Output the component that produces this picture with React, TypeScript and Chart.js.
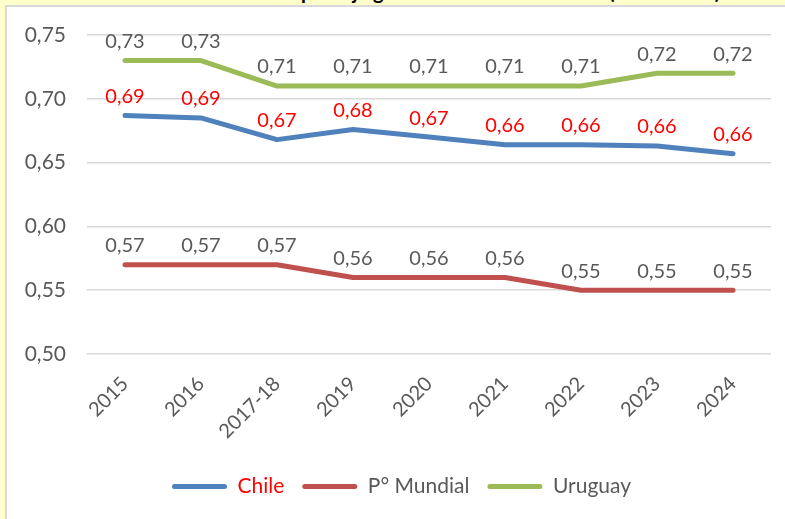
import React, { useEffect, useRef } from "react";
import { Chart, registerables } from "chart.js";

Chart.register(...registerables);

const categories = ["2015", "2016", "2017-18", "2019", "2020", "2021", "2022", "2023", "2024"];
const chileValues = [0.687, 0.685, 0.668, 0.676, 0.670, 0.664, 0.664, 0.663, 0.657];
const mundialValues = [0.57, 0.57, 0.57, 0.56, 0.56, 0.56, 0.55, 0.55, 0.55];
const uruguayValues = [0.73, 0.73, 0.71, 0.71, 0.71, 0.71, 0.71, 0.72, 0.72];
const seriesNames = ["Chile", "P° Mundial", "Uruguay"];
const seriesColors = ["#4F81BD", "#C0504D", "#9BBB59"];
const labelColors = ["#FF0000", "#595959", "#595959"];
const yTicks = { min: 0.5, max: 0.75, step: 0.05 };
const titleText = "Gráfico 1: Evolución del puntaje general de Chile en el IDH (2015-2024)";

const FONT = "Lato, 'Open Sans', sans-serif";
const fmt = (v: number) => v.toFixed(2).replace(".", ",");

const dataLabelPlugin = {
  id: "dataLabels",
  beforeDraw(chart: any) {
    // centre the legend row under the whole panel, as in the original
    if (chart.legend && !chart.legend._shifted) {
      chart.legend.left = 32;
      chart.legend._shifted = true;
    }
  },
  afterDatasetsDraw(chart: any) {
    const ctx = chart.ctx;
    chart.data.datasets.forEach((ds: any, i: number) => {
      const meta = chart.getDatasetMeta(i);
      meta.data.forEach((pt: any, j: number) => {
        const v = ds.data[j] as number;
        ctx.save();
        ctx.font = `20px ${FONT}`;
        ctx.fillStyle = labelColors[i];
        ctx.textAlign = "center";
        ctx.textBaseline = "middle";
        ctx.fillText(fmt(v), pt.x, pt.y - 19);
        ctx.restore();
      });
    });
  },
};

export default function App() {
  const ref = useRef<HTMLCanvasElement | null>(null);
  useEffect(() => {
    if (!ref.current) return;
    const values = [chileValues, mundialValues, uruguayValues];
    const chart = new Chart(ref.current, {
      type: "line",
      data: {
        labels: categories,
        datasets: values.map((d, i) => ({
          label: seriesNames[i],
          data: d,
          borderColor: seriesColors[i],
          backgroundColor: seriesColors[i],
          borderWidth: 5,
          pointRadius: 0,
          borderCapStyle: "round" as const,
          borderJoinStyle: "round" as const,
          tension: 0,
        })),
      },
      options: {
        animation: false,
        responsive: false,
        maintainAspectRatio: false,
        layout: { padding: { left: 0, right: 14, top: 35, bottom: 12 } },
        plugins: {
          tooltip: { enabled: false },
          legend: {
            position: "bottom",
            labels: {
              font: { family: FONT, size: 21 },
              color: "#595959",
              boxWidth: 55,
              boxHeight: 5,
              padding: 18,
              useBorderRadius: true,
              borderRadius: 2.5,
              generateLabels: (c: any) =>
                c.data.datasets.map((ds: any, i: number) => ({
                  text: ds.label,
                  fillStyle: seriesColors[i],
                  strokeStyle: seriesColors[i],
                  lineWidth: 0,
                  fontColor: labelColors[i],
                  hidden: false,
                  datasetIndex: i,
                  borderRadius: 2.5,
                })),
            },
          },
        },
        scales: {
          x: {
            offset: true,
            grid: { display: false, drawTicks: false },
            border: { display: false },
            ticks: {
              font: { family: FONT, size: 20 },
              color: "#595959",
              minRotation: 45,
              maxRotation: 45,
              padding: 18,
            },
            afterFit: (s: any) => {
              s.height = 104;
            },
          },
          y: {
            min: yTicks.min,
            max: yTicks.max,
            grid: { color: "#D9D9D9", lineWidth: 1.5, drawTicks: false },
            border: { display: false },
            ticks: {
              stepSize: yTicks.step,
              font: { family: FONT, size: 21 },
              color: "#595959",
              padding: 21,
              callback: (v: any) => fmt(Number(v)),
            },
            afterFit: (s: any) => {
              s.width = 87;
            },
          },
        },
      },
      plugins: [dataLabelPlugin],
    });
    return () => chart.destroy();
  }, []);

  return (
    <div
      style={{
        position: "fixed",
        left: 0,
        top: 0,
        width: 785,
        height: 519,
        background: "#FFFFCC",
        overflow: "hidden",
      }}
    >
      <div
        style={{
          position: "absolute",
          left: 0,
          top: -19,
          width: 785,
          textAlign: "center",
          font: `bold 20px ${FONT}`,
          lineHeight: "20px",
          color: "#000",
          paddingLeft: 22,
          boxSizing: "border-box",
        }}
      >
        {titleText}
      </div>
      <div
        style={{
          position: "absolute",
          left: 5,
          top: 5,
          width: 820,
          height: 560,
          background: "#FFFFFF",
          border: "2px solid #D9D9D9",
        }}
      />
      <canvas
        ref={ref}
        width={785}
        height={519}
        style={{ position: "absolute", left: 0, top: 0, width: 785, height: 519 }}
      />
    </div>
  );
}
